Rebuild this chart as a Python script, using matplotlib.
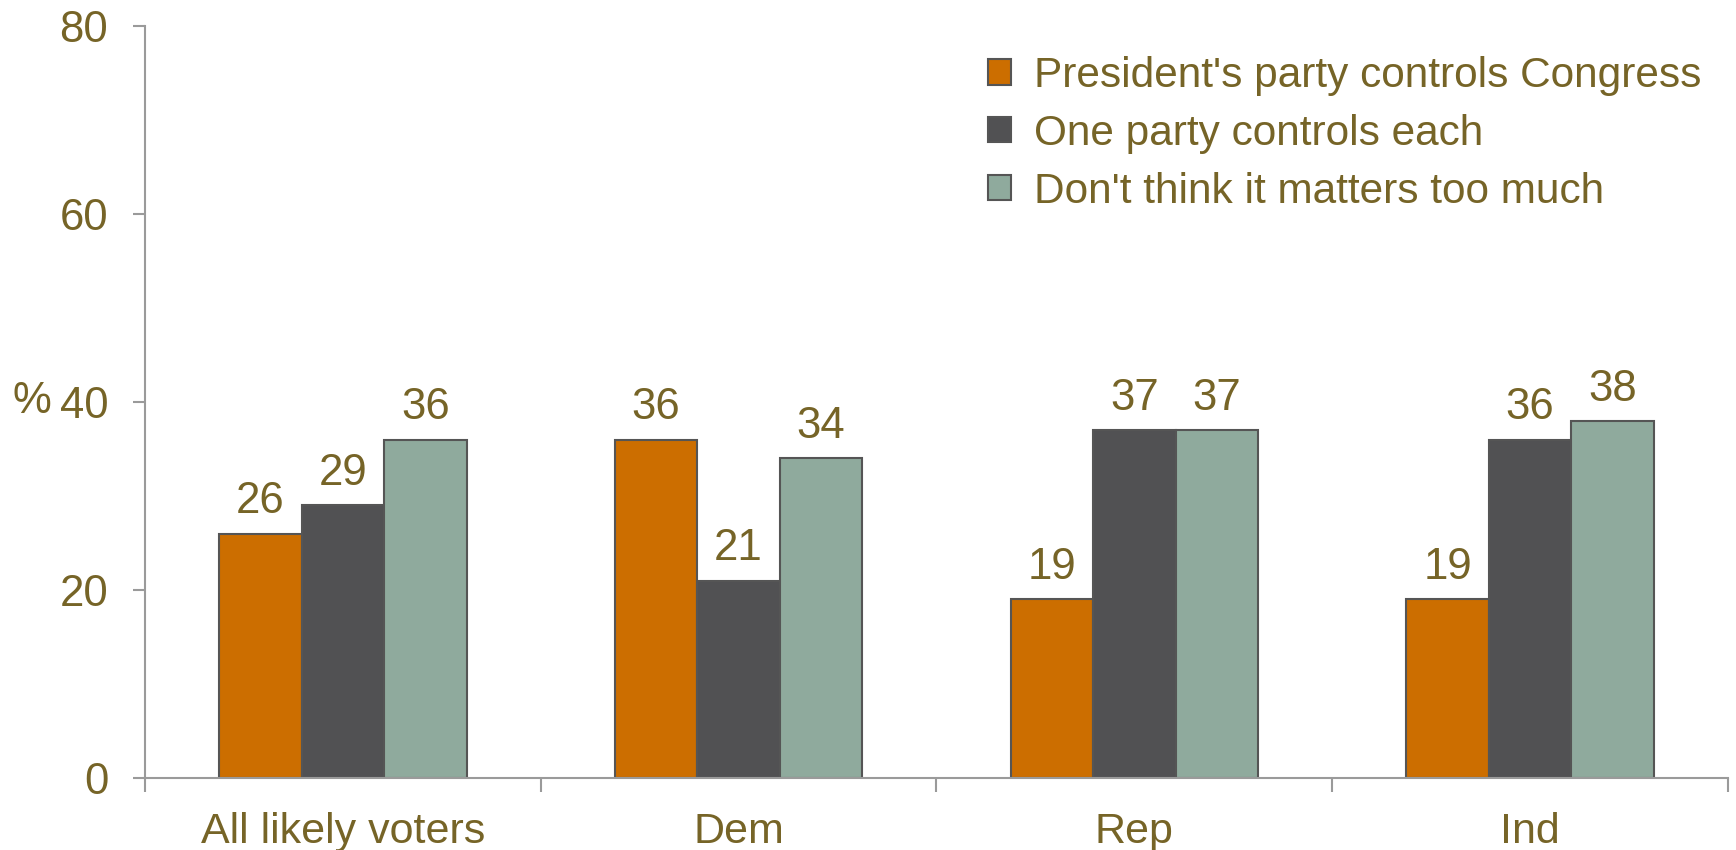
import matplotlib
matplotlib.use("Agg")
import matplotlib.pyplot as plt
import numpy as np

categories = ["All likely voters", "Dem", "Rep", "Ind"]
series_names = ["President's party controls Congress", "One party controls each", "Don't think it matters too much"]
president_party = [26, 36, 19, 19]
one_party_each = [29, 21, 37, 36]
doesnt_matter = [36, 34, 37, 38]
y_ticks = [0, 20, 40, 60, 80]

colors = ["#CC6E00", "#515153", "#8FAA9D"]
text_color = "#766427"
axis_color = "#9A9A9A"

plt.rcParams['font.family'] = ['Liberation Sans', 'DejaVu Sans']

fig = plt.figure(figsize=(17.36, 8.5), dpi=100)
ax = fig.add_axes([145/1736, 1-778/850, (1728-145)/1736, (778-26)/850])

x = np.arange(len(categories))
w = 0.2085
series = [president_party, one_party_each, doesnt_matter]
for j, (vals, name, c) in enumerate(zip(series, series_names, colors)):
    bars = ax.bar(x + (j-1)*w, vals, width=w, color=c, edgecolor="#555555", linewidth=1.5, label=name, zorder=2)
    for b, v in zip(bars, vals):
        ax.annotate(f"{v}", (b.get_x()+b.get_width()/2, v), xytext=(0, 8), textcoords="offset points",
                    ha="center", va="bottom", fontsize=31.5, color=text_color)

ax.set_xlim(-0.5, 3.5)
ax.set_ylim(0, 80)
ax.set_yticks(y_ticks)
ax.set_yticklabels([str(t) for t in y_ticks])
ax.set_xticks(np.arange(-0.5, 4.0, 1.0))
ax.set_xticklabels([])
ax.set_xticks(x, minor=True)
ax.set_xticklabels(categories, minor=True)
ax.tick_params(axis="x", which="major", length=10, width=1.5, color=axis_color, direction="out")
ax.tick_params(axis="x", which="minor", length=0, pad=24.5, labelsize=31, labelcolor=text_color)
ax.tick_params(axis="y", length=9, width=1.5, color=axis_color, direction="out", pad=17.5, labelsize=31.5, labelcolor=text_color)

for s in ["top", "right"]:
    ax.spines[s].set_visible(False)
for s in ["left", "bottom"]:
    ax.spines[s].set_color(axis_color)
    ax.spines[s].set_linewidth(1.5)

fig.text(12/1736, 1-402/850, "%", fontsize=31.5, color=text_color, ha="left", va="center")

leg = ax.legend(loc="upper left", bbox_to_anchor=((988-145)/1583, 1-(56-26)/752), frameon=False,
                fontsize=30.5, labelcolor=text_color, handlelength=0.54, handleheight=0.54,
                handletextpad=0.54, labelspacing=0.42, borderpad=0, borderaxespad=0)

fig.savefig("out.png", dpi=100)
